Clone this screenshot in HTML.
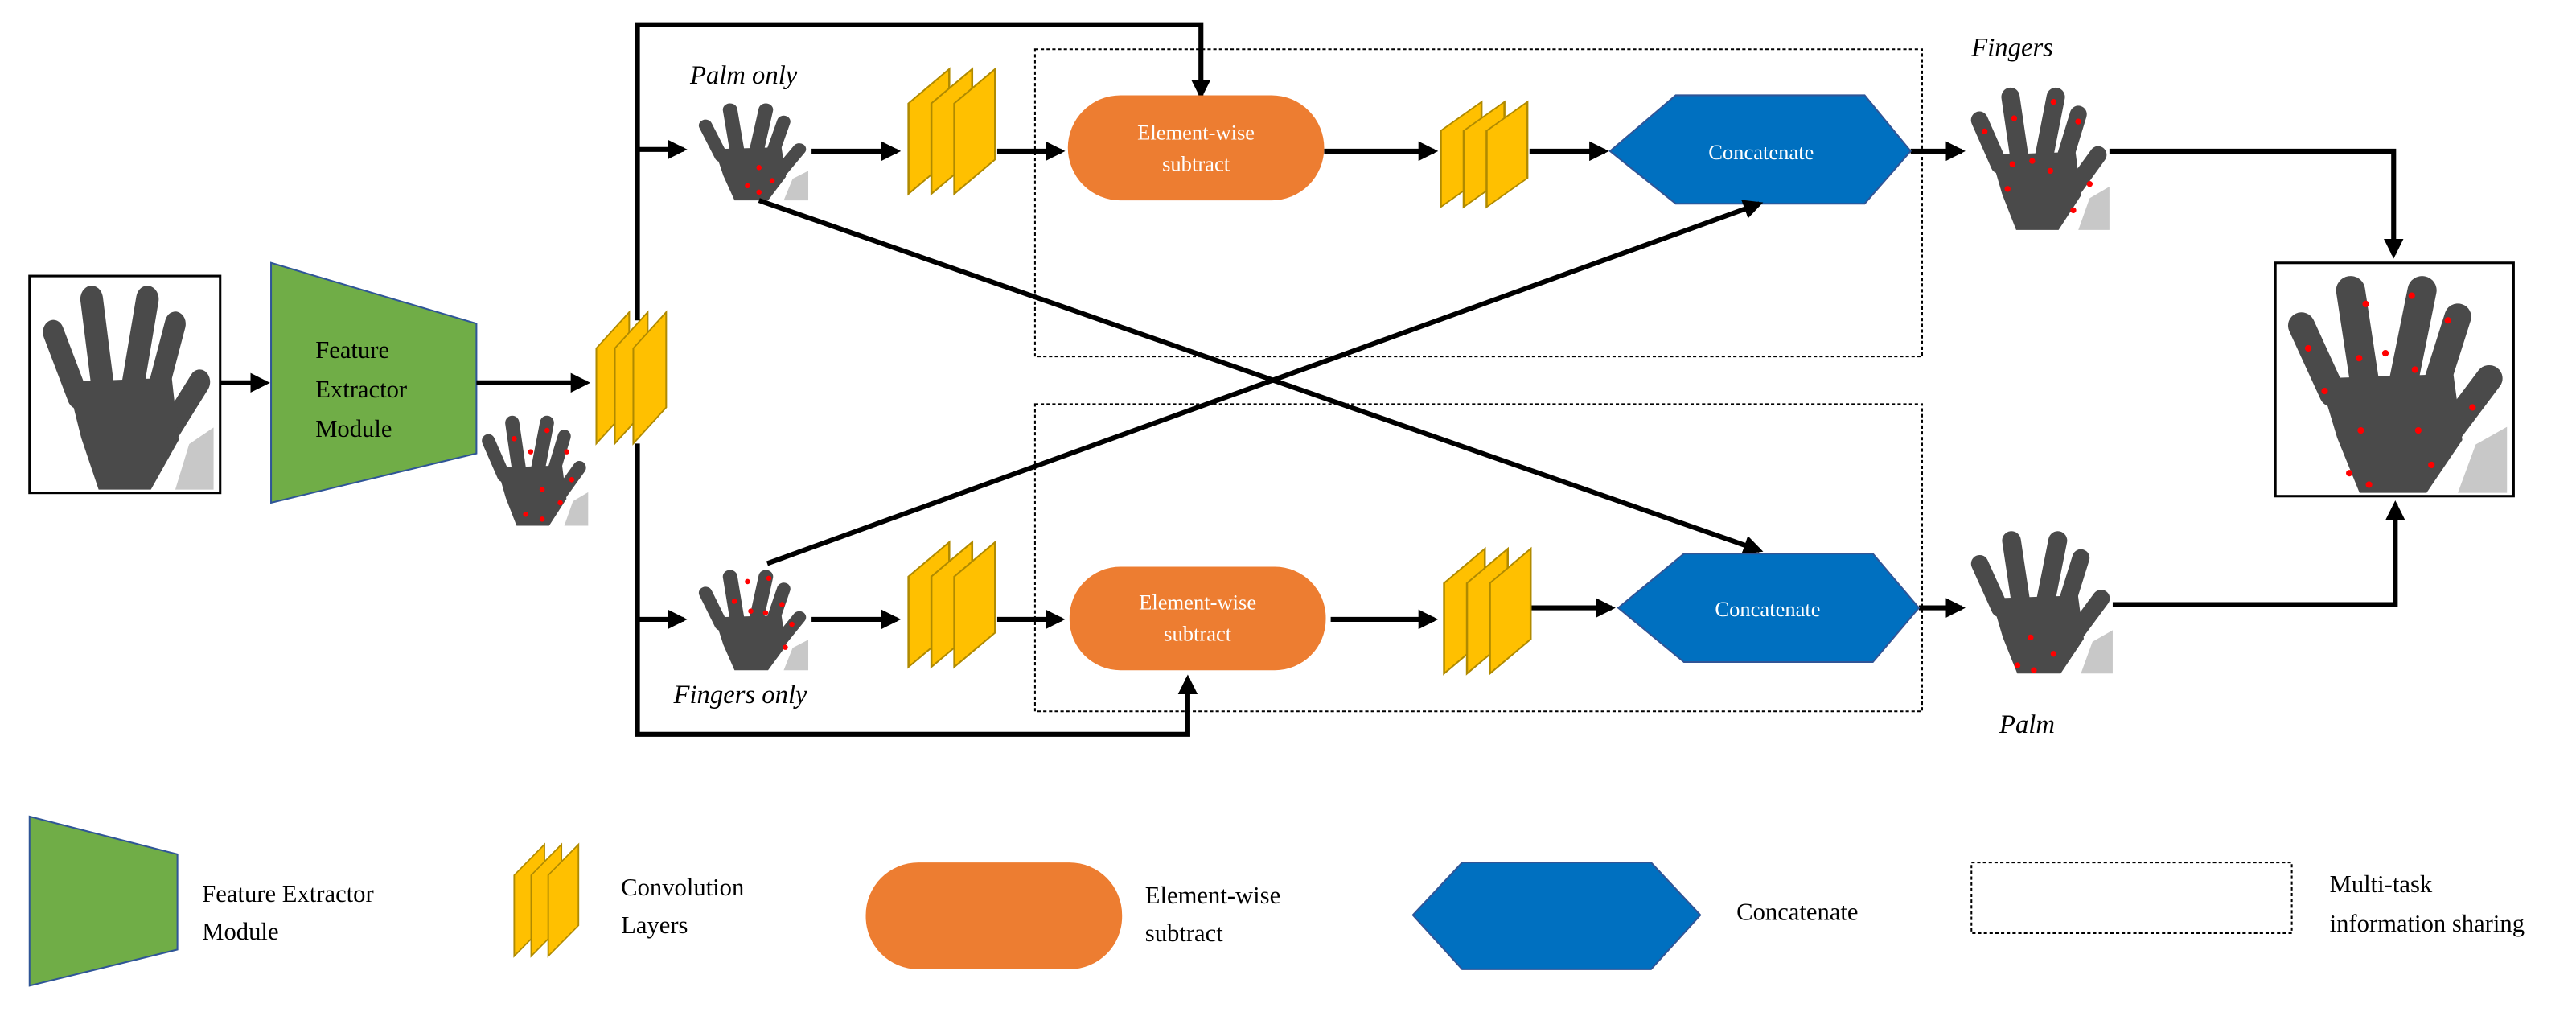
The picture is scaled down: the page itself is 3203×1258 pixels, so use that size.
<!DOCTYPE html>
<html><head><meta charset="utf-8"><style>
html,body{margin:0;padding:0;background:#fff;}
svg{display:block;}
svg text{font-family:"Liberation Serif","Times New Roman",serif !important;}
</style></head><body>
<svg width="3203" height="1258" viewBox="0 0 1568 616" preserveAspectRatio="none" xmlns="http://www.w3.org/2000/svg" font-family="Liberation Serif, serif">
<defs>
<marker id="ah" markerWidth="4" markerHeight="4" refX="3.2" refY="2" orient="auto" markerUnits="strokeWidth">
<path d="M0,0 L4,2 L0,4 Z" fill="#000"/></marker>
<g id="hand">
<polygon points="78,100 100,100 100,70 86,78" fill="#c8c8c8"/>
<g stroke="#4a4a4a" stroke-linecap="round" fill="none">
<line x1="22" y1="55" x2="8" y2="24" stroke-width="12"/>
<line x1="36" y1="48" x2="30" y2="8" stroke-width="13"/>
<line x1="54" y1="48" x2="62" y2="8" stroke-width="13"/>
<line x1="68" y1="52" x2="78" y2="20" stroke-width="12"/>
<line x1="72" y1="75" x2="92" y2="48" stroke-width="12"/>
</g>
<path d="M16,48 L76,46 L80,76 L64,100 L34,100 L24,75 Z" fill="#4a4a4a"/>
</g>
<g id="conv">
<g fill="#FFC000" stroke="#b08a00" stroke-width="0.8">
<polygon points="0,22 16,0 16,58 0,80"/>
<polygon points="9,22 25,0 25,58 9,80"/>
<polygon points="18,22 34,0 34,58 18,80"/>
</g>
</g>
</defs>

<rect x="630" y="30" width="540" height="187" fill="none" stroke="#000" stroke-width="1" stroke-dasharray="2,1.5"/>
<rect x="630" y="246" width="540" height="187" fill="none" stroke="#000" stroke-width="1" stroke-dasharray="2,1.5"/>

<rect x="18" y="168" width="116" height="132" fill="#fff" stroke="#000" stroke-width="1.5"/>
<use href="#hand" transform="translate(24,172) scale(1.06,1.26)"/>

<polygon points="165,160 290,197 290,276 165,306" fill="#70AD47" stroke="#2F5597" stroke-width="1"/>
<text x="192" y="218" font-size="15">Feature</text>
<text x="192" y="242" font-size="15">Extractor</text>
<text x="192" y="266" font-size="15">Module</text>

<g stroke="#000" stroke-width="3" fill="none" marker-end="url(#ah)">
<line x1="134" y1="233" x2="162" y2="233"/>
<line x1="290" y1="233" x2="357" y2="233"/>
</g>
<use href="#hand" transform="translate(292,252) scale(0.66,0.68)"/>
<use href="#conv" transform="translate(363,190) scale(1.25,1.0)"/>

<g stroke="#000" stroke-width="3" fill="none">
<polyline points="388,195 388,15 731,15 731,58" marker-end="url(#ah)"/>
<polyline points="388,270 388,447 723,447 723,413" marker-end="url(#ah)"/>
<line x1="388" y1="91" x2="416" y2="91" marker-end="url(#ah)"/>
<line x1="388" y1="377" x2="416" y2="377" marker-end="url(#ah)"/>
</g>

<text x="420" y="51" font-size="16" font-style="italic">Palm only</text>
<use href="#hand" transform="translate(424,62) scale(0.68,0.6)"/>
<g stroke="#000" stroke-width="3" fill="none" marker-end="url(#ah)">
<line x1="494" y1="92" x2="546" y2="92"/>
<line x1="607" y1="92" x2="646" y2="92"/>
<line x1="806" y1="92" x2="873" y2="92"/>
<line x1="931" y1="92" x2="977" y2="92"/>
<line x1="1163" y1="92" x2="1194" y2="92"/>
<polyline points="1284,92 1457,92 1457,155"/>
</g>
<use href="#conv" transform="translate(553,42) scale(1.55,0.95)"/>
<rect x="650" y="58" width="156" height="64" rx="32" fill="#ED7D31"/>
<text x="728" y="85" font-size="13" fill="#fff" text-anchor="middle">Element-wise</text>
<text x="728" y="104" font-size="13" fill="#fff" text-anchor="middle">subtract</text>
<use href="#conv" transform="translate(877,62) scale(1.55,0.8)"/>
<polygon points="980,92 1020,58 1135,58 1163,92 1135,124 1020,124" fill="#0070C0" stroke="#2F5597" stroke-width="1"/>
<text x="1072" y="97" font-size="13" fill="#fff" text-anchor="middle">Concatenate</text>
<text x="1200" y="34" font-size="16" font-style="italic">Fingers</text>
<use href="#hand" transform="translate(1198,52) scale(0.86,0.88)"/>

<rect x="1385" y="160" width="145" height="142" fill="#fff" stroke="#000" stroke-width="1.5"/>
<use href="#hand" transform="translate(1390,166) scale(1.36,1.34)"/>

<use href="#hand" transform="translate(424,346) scale(0.68,0.62)"/>
<text x="410" y="428" font-size="16" font-style="italic">Fingers only</text>
<g stroke="#000" stroke-width="3" fill="none" marker-end="url(#ah)">
<line x1="494" y1="377" x2="546" y2="377"/>
<line x1="607" y1="377" x2="646" y2="377"/>
<line x1="810" y1="377" x2="873" y2="377"/>
<line x1="931" y1="370" x2="981" y2="370"/>
<line x1="1168" y1="370" x2="1194" y2="370"/>
<polyline points="1286,368 1458,368 1458,307"/>
<line x1="462" y1="122" x2="1071" y2="335"/>
<line x1="467" y1="343" x2="1071" y2="124"/>
</g>
<use href="#conv" transform="translate(553,330) scale(1.55,0.95)"/>
<rect x="651" y="345" width="156" height="63" rx="31" fill="#ED7D31"/>
<text x="729" y="371" font-size="13" fill="#fff" text-anchor="middle">Element-wise</text>
<text x="729" y="390" font-size="13" fill="#fff" text-anchor="middle">subtract</text>
<use href="#conv" transform="translate(879,334) scale(1.55,0.95)"/>
<polygon points="985,370 1025,337 1140,337 1168,370 1140,403 1025,403" fill="#0070C0" stroke="#2F5597" stroke-width="1"/>
<text x="1076" y="375" font-size="13" fill="#fff" text-anchor="middle">Concatenate</text>
<use href="#hand" transform="translate(1198,322) scale(0.88,0.88)"/>
<text x="1217" y="446" font-size="16" font-style="italic">Palm</text>

<g fill="#f00">
<circle cx="313" cy="267" r="1.6"/><circle cx="323" cy="275" r="1.6"/><circle cx="333" cy="262" r="1.6"/><circle cx="345" cy="275" r="1.6"/><circle cx="330" cy="298" r="1.6"/><circle cx="320" cy="313" r="1.6"/><circle cx="330" cy="316" r="1.6"/><circle cx="341" cy="306" r="1.6"/><circle cx="348" cy="292" r="1.6"/>
<circle cx="462" cy="102" r="1.6"/><circle cx="455" cy="113" r="1.6"/><circle cx="470" cy="110" r="1.6"/><circle cx="462" cy="117" r="1.6"/>
<circle cx="455" cy="354" r="1.6"/><circle cx="468" cy="352" r="1.6"/><circle cx="447" cy="366" r="1.6"/><circle cx="457" cy="372" r="1.6"/><circle cx="466" cy="373" r="1.6"/><circle cx="476" cy="368" r="1.6"/><circle cx="482" cy="380" r="1.6"/><circle cx="478" cy="394" r="1.6"/>
<circle cx="1226" cy="72" r="1.8"/><circle cx="1250" cy="62" r="1.8"/><circle cx="1265" cy="74" r="1.8"/><circle cx="1208" cy="80" r="1.8"/><circle cx="1225" cy="100" r="1.8"/><circle cx="1237" cy="98" r="1.8"/><circle cx="1248" cy="104" r="1.8"/><circle cx="1222" cy="115" r="1.8"/><circle cx="1272" cy="112" r="1.8"/><circle cx="1262" cy="128" r="1.8"/>
<circle cx="1236" cy="388" r="1.8"/><circle cx="1250" cy="398" r="1.8"/><circle cx="1228" cy="405" r="1.8"/><circle cx="1238" cy="408" r="1.8"/>
<circle cx="1440" cy="185" r="2"/><circle cx="1468" cy="180" r="2"/><circle cx="1490" cy="195" r="2"/><circle cx="1405" cy="212" r="2"/><circle cx="1415" cy="238" r="2"/><circle cx="1436" cy="218" r="2"/><circle cx="1452" cy="215" r="2"/><circle cx="1470" cy="225" r="2"/><circle cx="1505" cy="248" r="2"/><circle cx="1437" cy="262" r="2"/><circle cx="1472" cy="262" r="2"/><circle cx="1480" cy="283" r="2"/><circle cx="1430" cy="288" r="2"/><circle cx="1442" cy="295" r="2"/>
</g>

<polygon points="18,497 108,520 108,578 18,600" fill="#70AD47" stroke="#2F5597" stroke-width="1"/>
<text x="123" y="549" font-size="15">Feature Extractor</text>
<text x="123" y="572" font-size="15">Module</text>
<use href="#conv" transform="translate(313,514) scale(1.15,0.85)"/>
<text x="378" y="545" font-size="15">Convolution</text>
<text x="378" y="568" font-size="15">Layers</text>
<rect x="527" y="525" width="156" height="65" rx="32" fill="#ED7D31"/>
<text x="697" y="550" font-size="15">Element-wise</text>
<text x="697" y="573" font-size="15">subtract</text>
<polygon points="860,557 890,525 1005,525 1035,557 1005,590 890,590" fill="#0070C0" stroke="#2F5597" stroke-width="1"/>
<text x="1057" y="560" font-size="15">Concatenate</text>
<rect x="1200" y="525" width="195" height="43" fill="none" stroke="#000" stroke-width="1" stroke-dasharray="2,1.5"/>
<text x="1418" y="543" font-size="15">Multi-task</text>
<text x="1418" y="567" font-size="15">information sharing</text>
</svg>
</body></html>
